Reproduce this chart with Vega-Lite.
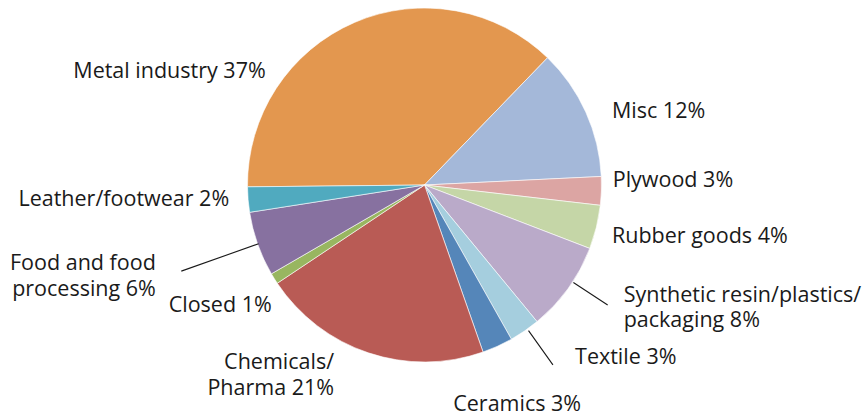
{
  "$schema": "https://vega.github.io/schema/vega-lite/v6.json",
  "width": 849,
  "height": 370,
  "autosize": {"type": "none"},
  "padding": {"left": 0, "top": 0, "right": 13, "bottom": 47},
  "background": "white",
  "view": {"stroke": null},
  "config": {
    "text": {"font": "Open Sans", "fontSize": 21.5, "lineHeight": 25.7, "lineBreak": "\n", "color": "#1a1a1a", "baseline": "middle"}
  },
  "data": {
    "values": [
      {"order": 1, "category": "Metal industry", "label": "Metal industry 37%", "value": 37.4},
      {"order": 2, "category": "Misc", "label": "Misc 12%", "value": 12.0},
      {"order": 3, "category": "Plywood", "label": "Plywood 3%", "value": 2.6},
      {"order": 4, "category": "Rubber goods", "label": "Rubber goods 4%", "value": 4.0},
      {"order": 5, "category": "Synthetic resin/plastics/packaging", "label": "Synthetic resin/plastics/\npackaging 8%", "value": 8.2},
      {"order": 6, "category": "Textile", "label": "Textile 3%", "value": 2.8},
      {"order": 7, "category": "Ceramics", "label": "Ceramics 3%", "value": 2.8},
      {"order": 8, "category": "Chemicals/Pharma", "label": "Chemicals/\nPharma 21%", "value": 21.0},
      {"order": 9, "category": "Closed", "label": "Closed 1%", "value": 1.0},
      {"order": 10, "category": "Food and food processing", "label": "Food and food\nprocessing 6%", "value": 5.9},
      {"order": 11, "category": "Leather/footwear", "label": "Leather/footwear 2%", "value": 2.3}
    ]
  },
  "transform": [
    {"stack": "value", "groupby": [], "sort": [{"field": "order", "order": "ascending"}], "as": ["start", "end"]},
    {"calculate": "(datum.start + datum.end) / 2", "as": "mid"}
  ],
  "layer": [
    {
      "mark": {"type": "arc", "outerRadius": 177, "stroke": "#ffffff", "strokeWidth": 0.6},
      "encoding": {
        "theta": {"field": "start", "type": "quantitative", "stack": null, "scale": {"domain": [0, 100], "range": [4.7019, 10.9851]}},
        "theta2": {"field": "end"},
        "color": {
          "field": "category", "type": "nominal", "legend": null,
          "scale": {
            "domain": ["Metal industry", "Misc", "Plywood", "Rubber goods", "Synthetic resin/plastics/packaging", "Textile", "Ceramics", "Chemicals/Pharma", "Closed", "Food and food processing", "Leather/footwear"],
            "range": ["#E3974F", "#A4B8D9", "#DCA5A3", "#C5D6A7", "#BAAAC9", "#A5CEDE", "#5586B9", "#B95B55", "#98B660", "#8771A0", "#50AABF"]
          }
        }
      }
    },
    {
      "transform": [{"filter": "datum.category === 'Synthetic resin/plastics/packaging'"}],
      "mark": {"type": "arc", "filled": false, "stroke": "#1a1a1a", "strokeWidth": 1.1, "innerRadius": 178, "outerRadius": 219, "thetaOffset": -0.044, "theta2Offset": -0.044},
      "encoding": {
        "theta": {"field": "mid", "type": "quantitative", "stack": null, "scale": {"domain": [0, 100], "range": [4.7019, 10.9851]}},
        "theta2": {"field": "mid"}
      }
    },
    {
      "transform": [{"filter": "datum.category === 'Textile'"}],
      "mark": {"type": "arc", "filled": false, "stroke": "#1a1a1a", "strokeWidth": 1.1, "innerRadius": 179, "outerRadius": 221, "thetaOffset": -0.019, "theta2Offset": -0.019},
      "encoding": {
        "theta": {"field": "mid", "type": "quantitative", "stack": null, "scale": {"domain": [0, 100], "range": [4.7019, 10.9851]}},
        "theta2": {"field": "mid"}
      }
    },
    {
      "transform": [{"filter": "datum.category === 'Food and food processing'"}],
      "mark": {"type": "arc", "filled": false, "stroke": "#1a1a1a", "strokeWidth": 1.1, "innerRadius": 176, "outerRadius": 258},
      "encoding": {
        "theta": {"field": "mid", "type": "quantitative", "stack": null, "scale": {"domain": [0, 100], "range": [4.7019, 10.9851]}},
        "theta2": {"field": "mid"}
      }
    },
    {
      "transform": [{"filter": "datum.category === 'Metal industry'"}],
      "mark": {"type": "text", "radius": 190, "align": "right", "dx": -83.7, "dy": 61.8},
      "encoding": {"theta": {"field": "mid", "type": "quantitative", "stack": null, "scale": {"domain": [0, 100], "range": [4.7019, 10.9851]}}, "text": {"field": "label"}}
    },
    {
      "transform": [{"filter": "datum.category === 'Misc'"}],
      "mark": {"type": "text", "radius": 205, "align": "left", "dx": 0.7, "dy": 11.1},
      "encoding": {"theta": {"field": "mid", "type": "quantitative", "stack": null, "scale": {"domain": [0, 100], "range": [4.7019, 10.9851]}}, "text": {"field": "label"}}
    },
    {
      "transform": [{"filter": "datum.category === 'Plywood'"}],
      "mark": {"type": "text", "radius": 188, "align": "left", "dx": 0.3, "dy": -10.6},
      "encoding": {"theta": {"field": "mid", "type": "quantitative", "stack": null, "scale": {"domain": [0, 100], "range": [4.7019, 10.9851]}}, "text": {"field": "label"}}
    },
    {
      "transform": [{"filter": "datum.category === 'Rubber goods'"}],
      "mark": {"type": "text", "radius": 192, "align": "left", "dx": 1, "dy": 6.5},
      "encoding": {"theta": {"field": "mid", "type": "quantitative", "stack": null, "scale": {"domain": [0, 100], "range": [4.7019, 10.9851]}}, "text": {"field": "label"}}
    },
    {
      "transform": [{"filter": "datum.category === 'Synthetic resin/plastics/packaging'"}],
      "mark": {"type": "text", "radius": 205, "align": "left", "dx": 32.8, "dy": -9.1},
      "encoding": {"theta": {"field": "mid", "type": "quantitative", "stack": null, "scale": {"domain": [0, 100], "range": [4.7019, 10.9851]}}, "text": {"field": "label"}}
    },
    {
      "transform": [{"filter": "datum.category === 'Textile'"}],
      "mark": {"type": "text", "radius": 205, "align": "left", "dx": 34.6, "dy": 4.1},
      "encoding": {"theta": {"field": "mid", "type": "quantitative", "stack": null, "scale": {"domain": [0, 100], "range": [4.7019, 10.9851]}}, "text": {"field": "label"}}
    },
    {
      "transform": [{"filter": "datum.category === 'Ceramics'"}],
      "mark": {"type": "text", "radius": 238, "align": "center", "dx": -5.5, "dy": 3.2},
      "encoding": {"theta": {"field": "mid", "type": "quantitative", "stack": null, "scale": {"domain": [0, 100], "range": [4.7019, 10.9851]}}, "text": {"field": "label"}}
    },
    {
      "transform": [{"filter": "datum.category === 'Chemicals/Pharma'"}],
      "mark": {"type": "text", "radius": 198, "align": "right", "dx": -27.7, "dy": -9.6},
      "encoding": {"theta": {"field": "mid", "type": "quantitative", "stack": null, "scale": {"domain": [0, 100], "range": [4.7019, 10.9851]}}, "text": {"field": "label"}}
    },
    {
      "transform": [{"filter": "datum.category === 'Closed'"}],
      "mark": {"type": "text", "radius": 180, "align": "right", "dx": 0, "dy": 25.8},
      "encoding": {"theta": {"field": "mid", "type": "quantitative", "stack": null, "scale": {"domain": [0, 100], "range": [4.7019, 10.9851]}}, "text": {"field": "label"}}
    },
    {
      "transform": [{"filter": "datum.category === 'Food and food processing'"}],
      "mark": {"type": "text", "radius": 285, "align": "right", "dx": 0, "dy": -16.1},
      "encoding": {"theta": {"field": "mid", "type": "quantitative", "stack": null, "scale": {"domain": [0, 100], "range": [4.7019, 10.9851]}}, "text": {"field": "label"}}
    },
    {
      "transform": [{"filter": "datum.category === 'Leather/footwear'"}],
      "mark": {"type": "text", "radius": 196, "align": "right", "dx": 0, "dy": -1.5},
      "encoding": {"theta": {"field": "mid", "type": "quantitative", "stack": null, "scale": {"domain": [0, 100], "range": [4.7019, 10.9851]}}, "text": {"field": "label"}}
    }
  ]
}
